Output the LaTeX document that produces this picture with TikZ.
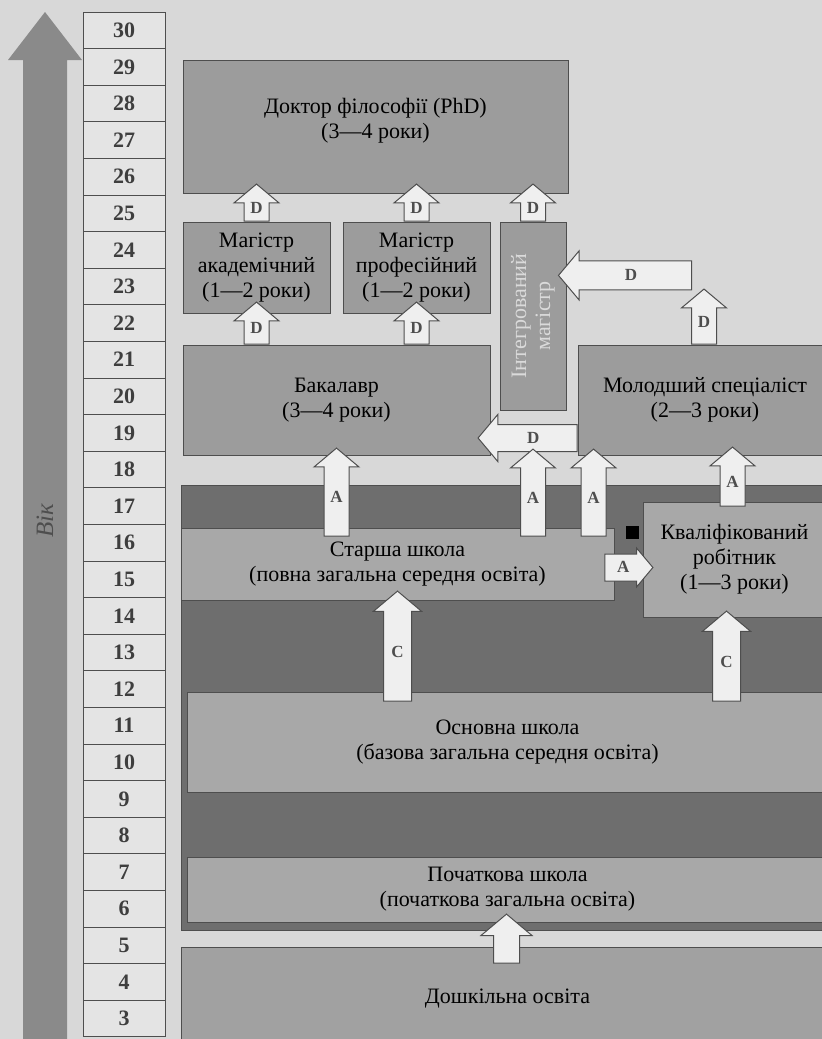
\documentclass[tikz,border=0pt]{standalone}
\usepackage{fontspec}
\setmainfont{Liberation Serif}
\usetikzlibrary{shapes.arrows}

\definecolor{paper}{HTML}{D8D8D8}
\definecolor{boxgray}{HTML}{9C9C9C}
\definecolor{schoolgray}{HTML}{6E6E6E}
\definecolor{lightbox}{HTML}{A8A8A8}
\definecolor{edge}{HTML}{4E4E4E}
\definecolor{arrowfill}{HTML}{EFEFEF}
\definecolor{agefill}{HTML}{E4E4E4}
\definecolor{agearrow}{HTML}{8A8A8A}

\begin{document}
\begin{tikzpicture}[x=1pt,y=-1pt,
    box/.style={rectangle, draw=edge, line width=0.9pt, fill=boxgray, inner sep=0pt},
    inbox/.style={box, fill=lightbox},
    lbl/.style={align=center, font=\fontsize{22}{25}\selectfont},
    agebox/.style={rectangle, draw=edge, line width=0.9pt, fill=agefill,
        minimum width=82pt, minimum height=36.6pt, inner sep=0pt,
        font=\fontsize{22}{22}\selectfont\bfseries, text=edge!80!black},
    blk/.style={single arrow, draw=edge, line width=1pt, fill=arrowfill,
        minimum width=44pt, single arrow head extend=10pt, single arrow tip angle=100,
        font=\fontsize{17}{17}\selectfont\bfseries, text=edge},
    uparr/.style={blk, shape border rotate=90, anchor=tail,
        inner sep=0pt, text width=24pt, align=center},
    leftarr/.style={blk, shape border rotate=180, anchor=tail,
        inner xsep=0pt, inner ysep=7pt, text height=11pt, text depth=1pt},
    rightarr/.style={leftarr, shape border rotate=0}]

    \useasboundingbox (0,0) rectangle (822,1039);
    \fill[paper] (0,0) rectangle (822,1039);

    % age scale
    \fill[agearrow] (23,1045) -- (23,60) -- (8,60) -- (45,12) -- (82,60)
        -- (67,60) -- (67,1045) -- cycle;
    \node[rotate=90, font=\fontsize{25}{25}\selectfont\itshape, text=edge] (vik) at (45,521) {Вік};
    \foreach \a [count=\i from 0] in {30,29,...,3}
        \node[agebox] (age\a) at (124,30.3+\i*36.6) {\a};

    % higher education
    \node[box, minimum width=385pt, minimum height=133pt] (phd) at (375.5,126.5) {};
    \node[lbl] (phdT) at ([yshift=6pt]phd.center) {Доктор філософії (PhD)\\(3—4 роки)};

    \node[box, minimum width=147pt, minimum height=91pt] (ma) at (256.5,267.5) {};
    \node[lbl] (maT) at (ma.center) {Магістр\\академічний\\(1—2 роки)};

    \node[box, minimum width=147pt, minimum height=91pt] (mp) at (416.5,267.5) {};
    \node[lbl] (mpT) at (mp.center) {Магістр\\професійний\\(1—2 роки)};

    \node[box, minimum width=66pt, minimum height=188pt] (im) at (533,316) {};
    \node[lbl, rotate=90, font=\fontsize{22}{24}\selectfont, text=agefill!90!gray] (imT)
        at (im.center) {Інтегрований\\магістр};

    \node[box, minimum width=307pt, minimum height=110pt] (bach) at (336.5,400) {};
    \node[lbl] (bachT) at (bach.center) {Бакалавр\\(3—4 роки)};

    \node[box, minimum width=248pt, minimum height=110pt] (ms) at (702,400) {};
    \node[lbl] (msT) at ([xshift=3pt]ms.center) {Молодший спеціаліст\\(2—3 роки)};

    % school
    \node[box, fill=schoolgray, minimum width=645pt, minimum height=445pt] (school) at (503.5,707.5) {};

    \node[inbox, minimum width=433pt, minimum height=72pt] (st) at (397.5,564) {};
    \node[lbl] (stT) at (st.center) {Старша школа\\(повна загальна середня освіта)};

    \node[inbox, minimum width=183pt, minimum height=115pt] (kw) at (734.5,559.5) {};
    \node[lbl] (kwT) at (kw.center) {Кваліфікований\\робітник\\(1—3 роки)};
    \node[fill=black, minimum size=13pt, inner sep=0pt] (mark) at (632,532) {};

    \node[inbox, minimum width=637pt, minimum height=100pt] (os) at (505.5,742) {};
    \node[lbl] (osT) at ([xshift=2pt]os.center) {Основна школа\\(базова загальна середня освіта)};

    \node[inbox, minimum width=637pt, minimum height=65pt] (pk) at (505.5,889.5) {};
    \node[lbl] (pkT) at ([xshift=2pt]pk.center) {Початкова школа\\(початкова загальна освіта)};

    \node[inbox, fill=boxgray!95!white, minimum width=645pt, minimum height=98pt] (dn) at (503.5,996) {};
    \node[lbl] (dnT) at ([yshift=-3pt,xshift=4pt]dn.center) {Дошкільна освіта};

    % D arrows
    \node[uparr, minimum height=37pt] (d1) at (ma.north) {D};
    \node[uparr, minimum height=37pt] (d2) at (mp.north) {D};
    \node[uparr, minimum height=37pt] (d3) at (im.north) {D};
    \node[uparr, minimum height=42pt] (d4) at (ma.south |- bach.north) {D};
    \node[uparr, minimum height=42pt] (d5) at (mp.south |- bach.north) {D};
    \node[uparr, minimum height=55pt] (d6) at ([xshift=2pt]ms.north) {D};
    \node[leftarr, minimum height=133pt, inner ysep=8pt] (d7) at ([xshift=-12pt,yshift=13pt]d6.tip) {D};
    \node[leftarr, minimum height=99pt] (d8) at ([yshift=-38pt]ms.west) {D};

    % A arrows
    \node[uparr, anchor=tip, minimum height=88pt, yshift=8pt] (a1) at (bach.south) {A};
    \node[uparr, anchor=tip, minimum height=87pt, yshift=7pt] (a2) at (im.south |- bach.south) {A};
    \node[uparr, anchor=tip, minimum height=87pt, xshift=16pt, yshift=7pt] (a3) at (ms.south west) {A};
    \node[uparr, minimum height=59pt, xshift=-2pt, yshift=-5pt] (a4) at (kw.north) {A};
    \node[rightarr, anchor=tip, minimum width=38pt, single arrow head extend=6pt,
        minimum height=48pt, xshift=11pt, yshift=-8pt] (a5) at (kw.west) {A};

    % C arrows
    \node[uparr, anchor=tip, minimum height=110pt, text width=27pt, yshift=10pt] (c1) at (st.south) {C};
    \node[uparr, anchor=tip, minimum height=90pt, text width=27pt, xshift=-8pt, yshift=7pt] (c2) at (kw.south) {C};

    % preschool to primary
    \node[uparr, anchor=tip, minimum width=50pt, single arrow head extend=12.5pt,
        text width=25pt, minimum height=49pt, xshift=1pt, yshift=9pt] (e1) at (pk.south) {};

\end{tikzpicture}
\end{document}
